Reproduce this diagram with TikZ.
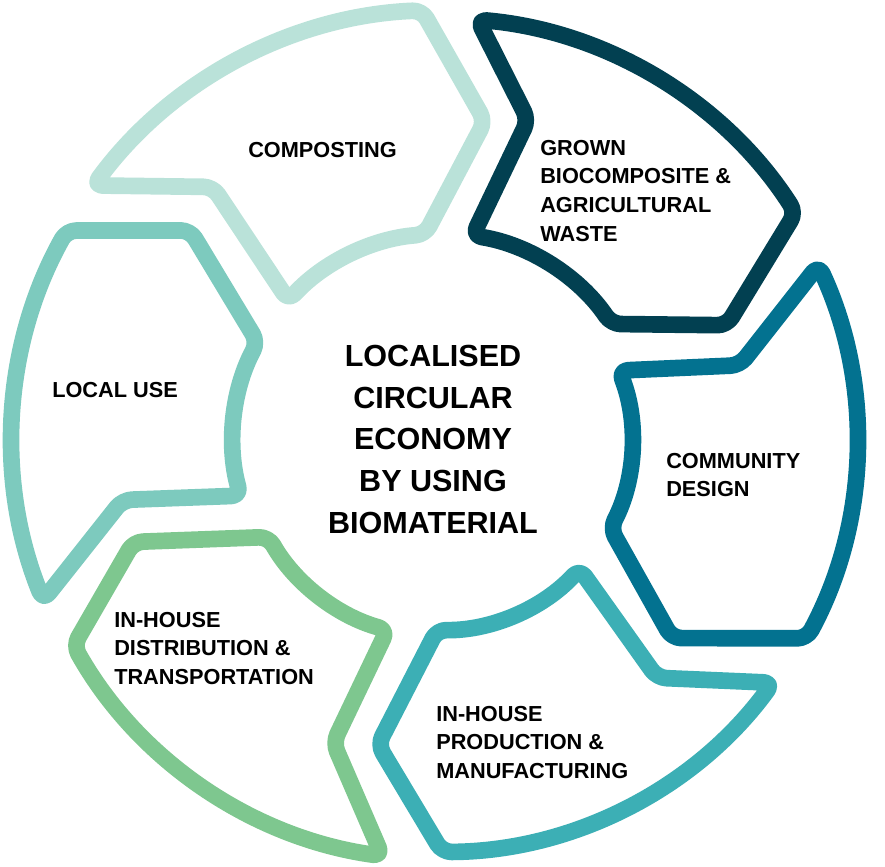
\documentclass[tikz,border=0pt]{standalone}
\usepackage{fontspec}
\setmainfont{Liberation Sans}
\definecolor{cmp}{HTML}{BAE2D9}
\definecolor{grw}{HTML}{024051}
\definecolor{cmd}{HTML}{037290}
\definecolor{prd}{HTML}{3CAFB5}
\definecolor{dst}{HTML}{7EC78F}
\definecolor{lcl}{HTML}{7DCABE}
\begin{document}
\begin{tikzpicture}[x=0.75pt,y=0.75pt]
\tikzset{
  seg/.style={draw=#1, line width=12.5pt, line join=round, rounded corners=7pt, fill=white},
  lbl/.style={font=\bfseries\fontsize{16.3}{21.4}\selectfont, align=left, anchor=north west, inner sep=0pt, text=black},
  ctr/.style={font=\bfseries\fontsize{22.9}{31.25}\selectfont, align=center, anchor=north, inner sep=0pt, text=black}
}
\useasboundingbox (0,0) rectangle (885,-867);
\begin{scope}[shift={(440,-440)}]
  % Composting
  \draw[seg=cmp] (143.7:430) arc[start angle=143.7, end angle=92.4, radius=430]
     -- (82:322) -- (94.2:206) arc[start angle=94.2, end angle=137.4, radius=206]
     -- (131.9:340) -- cycle;
  % Grown
  \draw[seg=grw] (84.9:422) arc[start angle=84.9, end angle=32.6, radius=422]
     -- (21.8:309) -- (34.1:207) arc[start angle=34.1, end angle=80.9, radius=207]
     -- (74.6:332) -- cycle;
  % Community
  \draw[seg=cmd] (24.8:417) arc[start angle=24.8, end angle=-28.4, radius=417]
     -- (-40.5:305) -- (-27.4:192) arc[start angle=-27.4, end angle=21.2, radius=192]
     -- (14:309) -- cycle;
  % Production
  \draw[seg=prd] (-36.1:412) arc[start angle=-36.1, end angle=-89.7, radius=412]
     -- (-101.5:311) -- (-90.9:190) arc[start angle=-90.9, end angle=-42.7, radius=190]
     -- (-47.6:322) -- cycle;
  % Distribution
  \draw[seg=dst] (-97.9:420) arc[start angle=-97.9, end angle=-150.7, radius=420]
     -- (-161.6:323) -- (-150.5:197) arc[start angle=-150.5, end angle=-105.5, radius=197]
     -- (-109.4:321) -- cycle;
  % Local use
  \draw[seg=lcl] (202:428) arc[start angle=202, end angle=150.7, radius=428]
     -- (140:326) -- (151.8:207) arc[start angle=151.8, end angle=195.6, radius=207]
     -- (190.7:323) -- cycle;
\end{scope}
\node[lbl] (composting) at (248,-142) {COMPOSTING};
\node[lbl] (grown) at (540,-140) {GROWN\\BIOCOMPOSITE \&\\AGRICULTURAL\\WASTE};
\node[lbl] (community) at (666,-453) {COMMUNITY\\DESIGN};
\node[lbl] (production) at (436,-706) {IN-HOUSE\\PRODUCTION \&\\MANUFACTURING};
\node[lbl] (distribution) at (114,-612) {IN-HOUSE\\DISTRIBUTION \&\\TRANSPORTATION};
\node[lbl] (localuse) at (52,-382) {LOCAL USE};
\node[ctr] (center) at (433,-345) {LOCALISED\\CIRCULAR\\ECONOMY\\BY USING\\BIOMATERIAL};
\end{tikzpicture}
\end{document}
